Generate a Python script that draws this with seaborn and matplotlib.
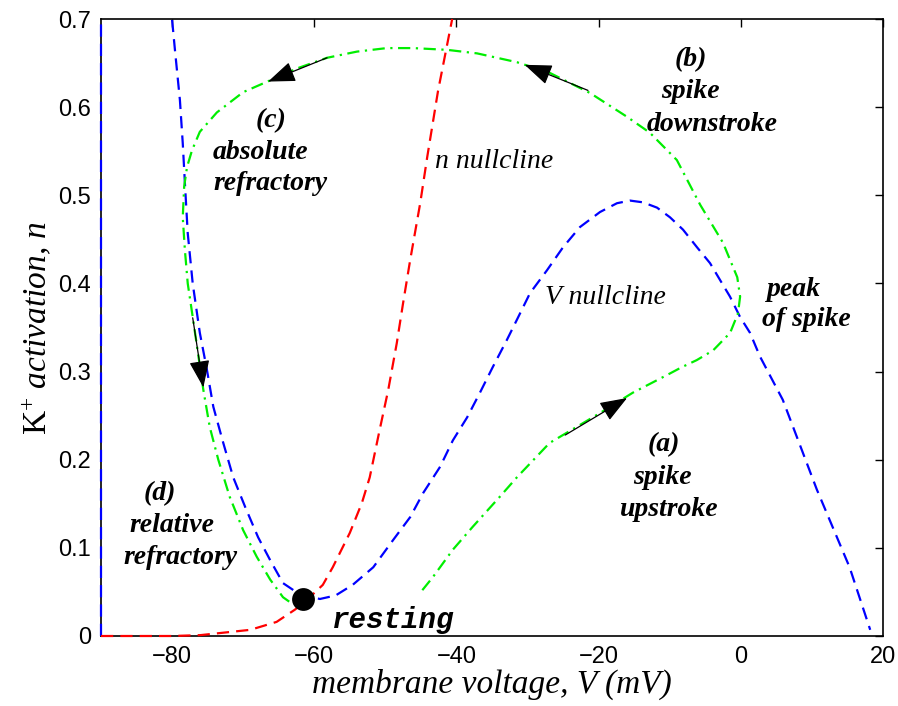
import numpy as np
import pandas as pd
import matplotlib
matplotlib.use("Agg")
import matplotlib.pyplot as plt
import seaborn as sns

# ---- data ----
vnull_V = [-80.0, -79.6, -78.9, -78.5, -78.2, -77.8, -77.1, -76.1, -75.1, -74.2, -72.8, -71.4,
           -69.7, -67.9, -66.2, -64.4, -62.0, -59.2, -57.0, -54.6, -51.7, -48.9, -46.5, -44.7,
           -42.3, -40.5, -38.5, -36.7, -34.9, -32.9, -31.3, -29.65, -27.26, -25.01, -22.62,
           -19.81, -17.42, -15.59, -13.76, -11.79, -9.96, -8.13, -6.16, -4.33, -2.93, -1.52,
           -0.11, 1.29, 2.7, 5.9, 10.7, 15.3, 18.2]
vnull_n = [0.699, 0.665, 0.608, 0.559, 0.514, 0.457, 0.400, 0.344, 0.302, 0.260, 0.219, 0.180,
           0.146, 0.112, 0.086, 0.060, 0.047, 0.042, 0.046, 0.058, 0.078, 0.109, 0.135, 0.162,
           0.192, 0.222, 0.248, 0.276, 0.305, 0.336, 0.362, 0.389, 0.415, 0.441, 0.464,
           0.481, 0.491, 0.494, 0.492, 0.486, 0.475, 0.461, 0.441, 0.423, 0.404, 0.385,
           0.362, 0.344, 0.317, 0.268, 0.166, 0.078, 0.007]
vnull_left_V = [-90.0, -90.0]
vnull_left_n = [0.0, 0.7]

nnull_V = [-90, -80, -76, -69, -65.3, -62.7, -60.5, -58.8, -57.4, -55.0, -53.3, -52.2, -50.8,
           -49.6, -48.4, -47.5, -46.5, -45.1, -44.1, -42.6, -40.6]
nnull_n = [0.0, 0.0, 0.001, 0.007, 0.016, 0.030, 0.045, 0.058, 0.078, 0.117, 0.151, 0.180,
           0.234, 0.279, 0.332, 0.378, 0.427, 0.491, 0.544, 0.618, 0.70]

traj_V = [-44.8, -43.3, -40.5, -37.7, -33.9, -31.5, -26.9, -19.8, -15.2, -10.4, -8.3, -6.2,
          -3.9, -1.5, -0.4, -0.1, -0.5, -2.5, -5.7, -9.0, -12.8, -16.0, -21.2, -26.9, -31.5,
          -37.1, -41.3, -46.1, -49.8, -54.0, -58.2, -62.4, -66.6, -70.0, -73.7, -76.1, -77.2,
          -77.9, -78.3, -78.5, -78.2, -77.8, -77.1, -75.6, -74.7, -73.5, -71.9, -70.0, -68.1,
          -66.2, -64.4, -63.0, -61.6]
traj_n = [0.052, 0.067, 0.098, 0.124, 0.158, 0.180, 0.219, 0.253, 0.276, 0.296, 0.305, 0.313,
          0.324, 0.344, 0.366, 0.385, 0.407, 0.446, 0.489, 0.540, 0.571, 0.589, 0.616, 0.639,
          0.651, 0.661, 0.665, 0.667, 0.667, 0.663, 0.656, 0.644, 0.629, 0.617, 0.594, 0.572,
          0.551, 0.532, 0.510, 0.475, 0.438, 0.400, 0.362, 0.279, 0.237, 0.200, 0.158, 0.120,
          0.090, 0.064, 0.044, 0.036, 0.041]

rest_V = [-61.6]
rest_n = [0.042]

# arrows: (tail V, tail n, head V, head n)
arrow_tail_V = [-24.7, -21.5, -58.2, -77.1]
arrow_tail_n = [0.228, 0.619, 0.656, 0.361]
arrow_head_V = [-16.0, -30.4, -66.5, -75.6]
arrow_head_n = [0.270, 0.648, 0.629, 0.282]

xticks = [-80, -60, -40, -20, 0, 20]
yticks = [0, 0.1, 0.2, 0.3, 0.4, 0.5, 0.6, 0.7]
ytick_labels = ["0", "0.1", "0.2", "0.3", "0.4", "0.5", "0.6", "0.7"]

# ---- style ----
sns.set_theme(style="white")
plt.rcParams["font.family"] = ["Liberation Sans", "DejaVu Sans"]
plt.rcParams["mathtext.fontset"] = "custom"
plt.rcParams["mathtext.rm"] = "Liberation Serif"
plt.rcParams["mathtext.it"] = "Liberation Serif:italic"
plt.rcParams["axes.unicode_minus"] = True
plt.rcParams["text.color"] = "black"
plt.rcParams["axes.labelcolor"] = "black"

fig = plt.figure(figsize=(8.98, 7.06), dpi=100)
ax = fig.add_axes([101/898, 1-636/706, (883-101)/898, (636-19)/706])

LW = 1.6
DASH = (5.5, 3.2)
sns.lineplot(x=vnull_V, y=vnull_n, sort=False, estimator=None, color="#0000FF", lw=LW, ax=ax)
ax.lines[-1].set_dashes(DASH)
sns.lineplot(x=vnull_left_V, y=vnull_left_n, sort=False, estimator=None, color="#0000FF", lw=LW, ax=ax)
ax.lines[-1].set_dashes(DASH)
ax.lines[-1].set_clip_on(False)
ax.lines[-1].set_zorder(5)
sns.lineplot(x=nnull_V, y=nnull_n, sort=False, estimator=None, color="#FF0000", lw=LW, ax=ax)
ax.lines[-1].set_dashes(DASH)
ax.lines[-1].set_clip_on(False)
ax.lines[-1].set_zorder(5)
sns.lineplot(x=traj_V, y=traj_n, sort=False, estimator=None, color="#00EE00", lw=LW, ax=ax)
ax.lines[-1].set_dashes((5.5, 2.5, 1.0, 2.5))

sns.scatterplot(x=rest_V, y=rest_n, color="black", s=270, edgecolor="black", linewidth=0,
                zorder=6, ax=ax, legend=False)

for tv, tn, hv, hn in zip(arrow_tail_V, arrow_tail_n, arrow_head_V, arrow_head_n):
    ax.annotate("", xy=(hv, hn), xytext=(tv, tn),
                arrowprops=dict(arrowstyle="-|>,head_length=0.85,head_width=0.32",
                                color="black", lw=0.9, mutation_scale=20,
                                shrinkA=0, shrinkB=0), zorder=7)

ax.set_xlim(-90, 20)
ax.set_ylim(0, 0.7)
ax.set_xticks(xticks)
ax.set_xticklabels([str(t).replace("-", "\u2212") for t in xticks])
ax.set_yticks(yticks)
ax.set_yticklabels(ytick_labels)
ax.tick_params(direction="in", length=6, width=1.0, top=True, right=True,
               labelsize=17, pad=7, colors="black")
for s in ax.spines.values():
    s.set_visible(True)
    s.set_color("black")
    s.set_linewidth(1.2)

serif = ["Liberation Serif", "DejaVu Serif"]
ax.set_xlabel("membrane voltage, V (mV)", fontsize=24, family=serif, style="italic",
              labelpad=1, color="black")
ax.set_ylabel(r"$\mathrm{K}^{+}$ activation, n", fontsize=24, family=serif, style="italic",
              labelpad=4, color="black")

def px2data(px, py):
    return (-90 + (px - 101) / (883 - 101) * 110, (636 - py) / (636 - 19) * 0.7)

bold_texts = [
    ("(a)", 664, 445), ("spike", 662, 477), ("upstroke", 669, 509),
    ("(b)", 691, 60), ("spike", 690, 92), ("downstroke", 712, 124),
    ("(c)", 271, 121), ("absolute", 260, 152), ("refractory", 270, 183),
    ("(d)", 160, 494), ("relative", 172, 526), ("refractory", 180, 557),
    ("peak", 794, 290), ("of spike", 806, 320),
]
for t, px, py in bold_texts:
    x, y = px2data(px, py)
    ax.text(x, y, t, ha="center", va="center", fontsize=20, family=serif,
            style="italic", weight="bold", color="black")

for t, px, py in [("n nullcline", 435, 161), ("V nullcline", 545, 298)]:
    x, y = px2data(px, py)
    ax.text(x, y, t, ha="left", va="center", fontsize=20, family=serif, style="italic",
            color="black")

x, y = px2data(393, 620)
ax.text(x, y, "resting", ha="center", va="center", fontsize=21,
        family=["Liberation Mono", "DejaVu Sans Mono"], style="italic", weight="bold",
        color="black")

fig.savefig("out.png", dpi=100)
